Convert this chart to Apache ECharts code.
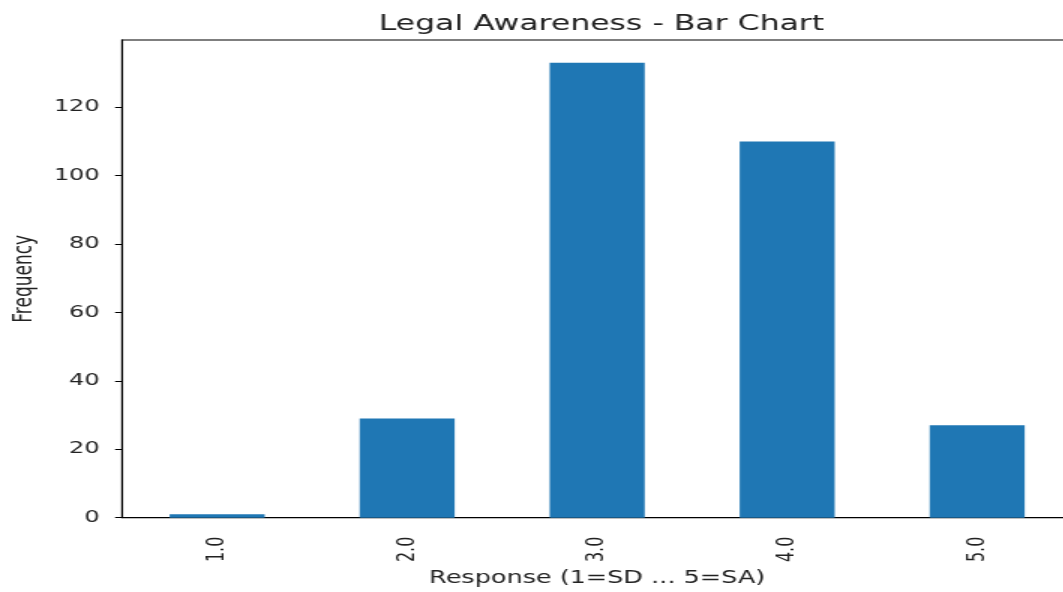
<!DOCTYPE html>
<html>
<head>
<meta charset="utf-8">
<title>Legal Awareness - Bar Chart</title>
<script src="https://cdn.jsdelivr.net/npm/echarts@6/dist/echarts.min.js"></script>
<style>
    html, body { margin: 0; padding: 0; background: #fff; overflow: hidden; }
    /* 原图横向被拉伸，这里用 scaleX 还原；右侧超出画面部分被裁掉 */
    #chart { width: 720px; height: 592px; transform: scaleX(1.5); transform-origin: 0 0; }
</style>
</head>
<body>
<div id="chart"></div>
<script>
// 数据
var categories = ['1.0', '2.0', '3.0', '4.0', '5.0'];
var frequency = [1, 29, 133, 110, 27];
var yTicks = [0, 20, 40, 60, 80, 100, 120];

(function () {
    var font = "'DejaVu Sans', sans-serif";
    var ink = '#222';

    var option = {
        animation: false,
        backgroundColor: '#fff',
        title: {
            text: 'Legal Awareness - Bar Chart',
            left: 396,
            top: 9,
            textAlign: 'center',
            textStyle: { fontFamily: font, fontSize: 21, fontWeight: 'normal', color: ink }
        },
        grid: {
            left: 79.3,
            top: 40,
            width: 635.5,
            height: 482,
            show: true,
            borderColor: '#000',
            borderWidth: 1.2,
            containLabel: false
        },
        xAxis: {
            type: 'category',
            data: categories,
            name: 'Response (1=SD ... 5=SA)',
            nameLocation: 'middle',
            nameGap: 49,
            nameTextStyle: { fontFamily: font, fontSize: 17, color: ink },
            axisLine: { lineStyle: { color: '#000', width: 1.2 } },
            axisTick: { alignWithLabel: true, length: 6, lineStyle: { color: '#000', width: 1 } },
            axisLabel: { rotate: 90, margin: 19, fontFamily: font, fontSize: 16, color: ink }
        },
        yAxis: {
            type: 'value',
            min: 0,
            max: 139.65,
            interval: 20,
            name: 'Frequency',
            nameLocation: 'middle',
            nameGap: 54,
            nameTextStyle: { fontFamily: font, fontSize: 17, color: ink },
            splitLine: { show: false },
            axisLine: { show: true, lineStyle: { color: '#000', width: 1 } },
            axisTick: { show: true, length: 4.7, customValues: yTicks, lineStyle: { color: '#000', width: 1 } },
            axisLabel: { margin: 15, customValues: yTicks, fontFamily: font, fontSize: 16, color: ink }
        },
        series: [
            {
                type: 'bar',
                data: frequency,
                barWidth: '50%',
                itemStyle: { color: '#1f77b4' }
            }
        ]
    };

    var chart = echarts.init(document.getElementById('chart'), null, { renderer: 'canvas' });
    chart.setOption(option);
})();
</script>
</body>
</html>
